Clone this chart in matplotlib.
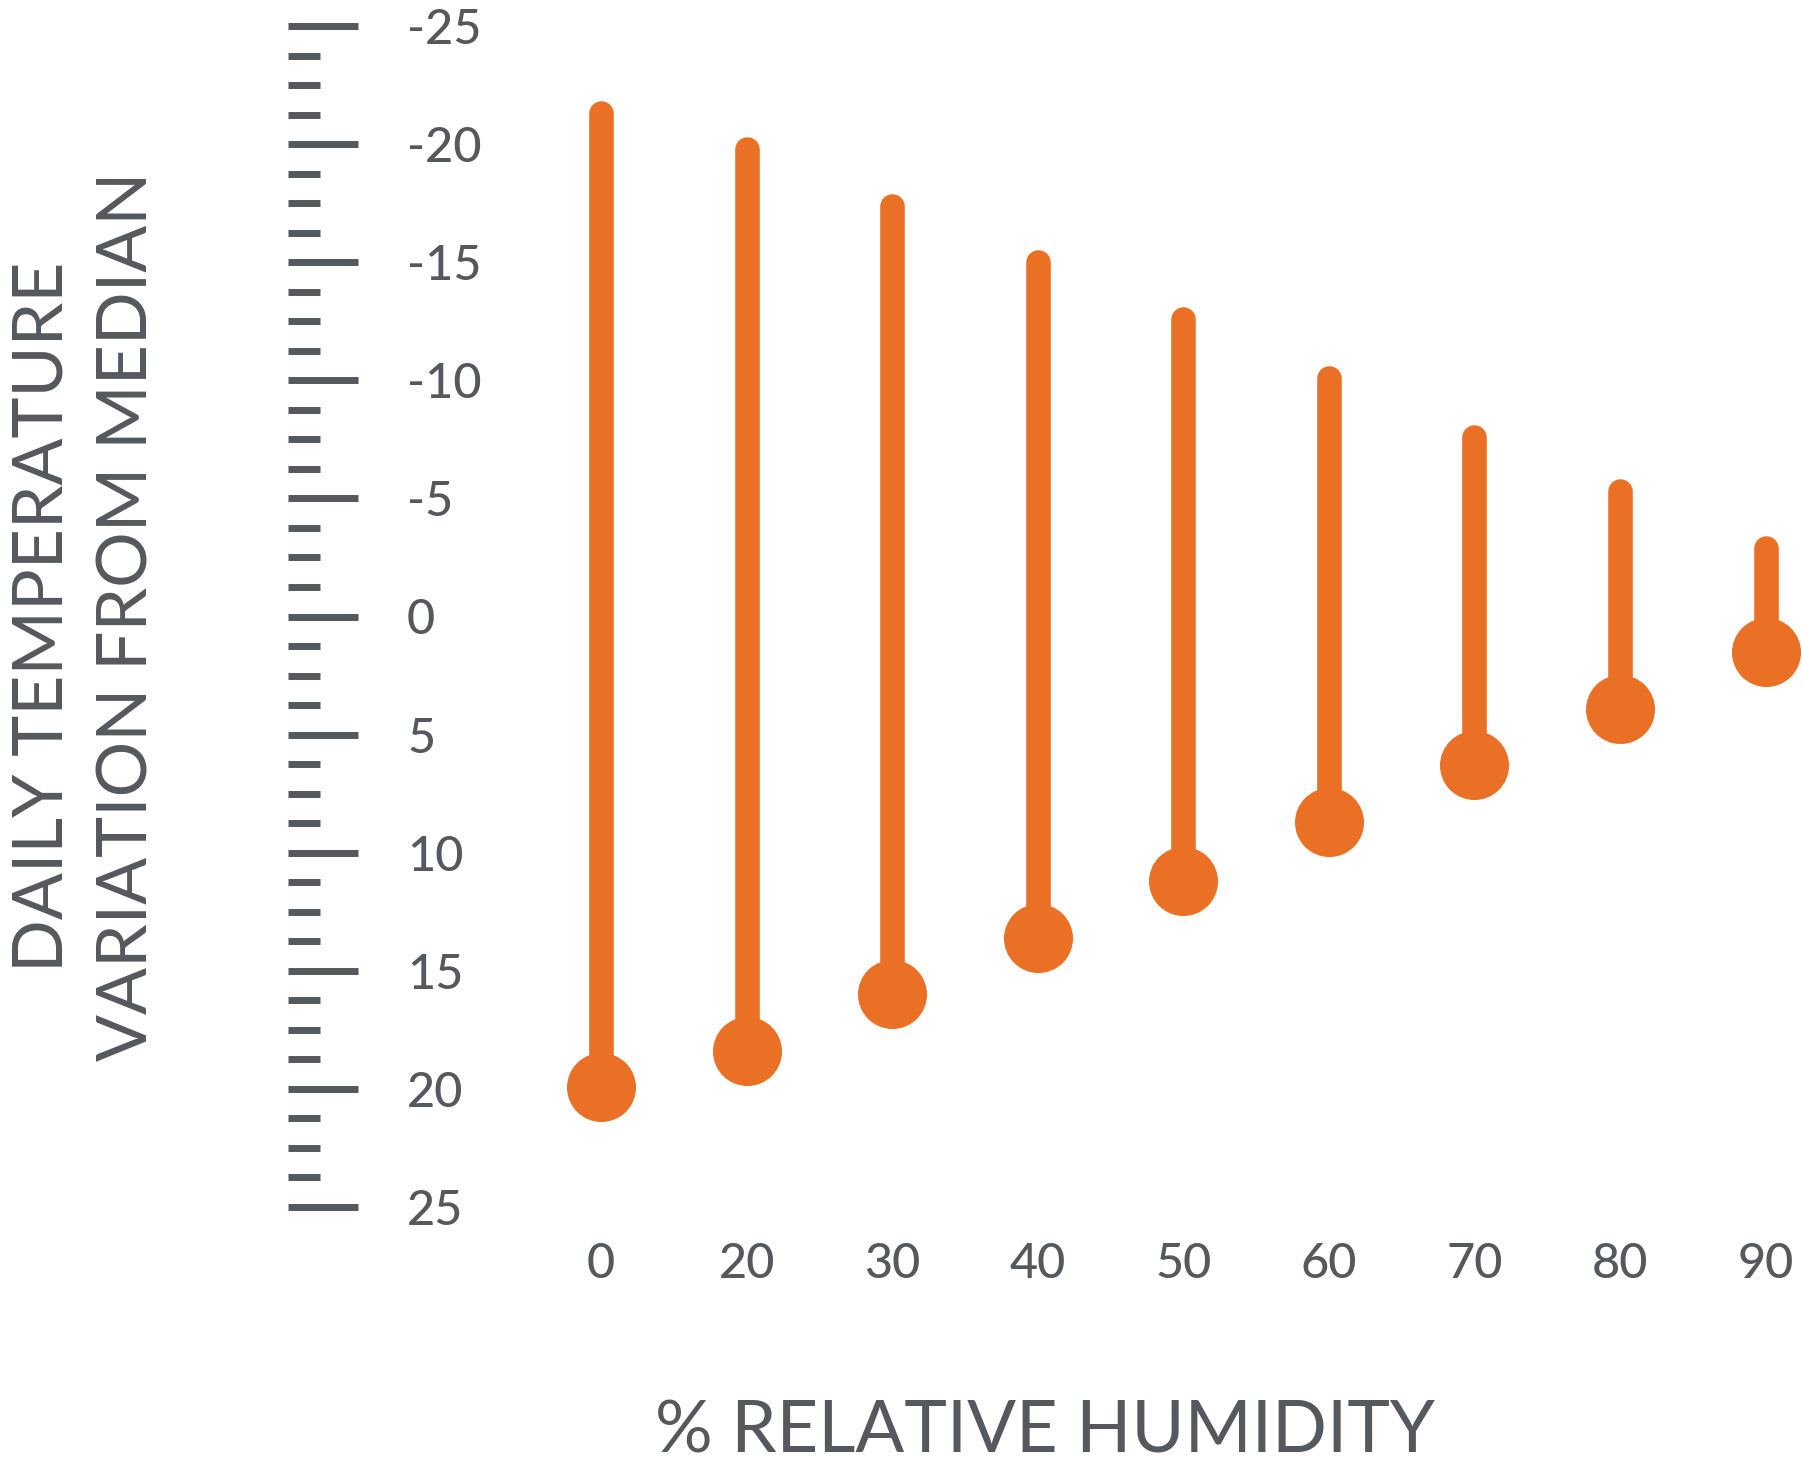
import matplotlib.pyplot as plt

# values (y axis is inverted: negative at top)
humidity = ['0', '20', '30', '40', '50', '60', '70', '80', '90']
var_top = [-21.3, -19.8, -17.4, -15.0, -12.6, -10.1, -7.6, -5.3, -2.9]
var_bottom = [19.9, 18.4, 16.0, 13.6, 11.2, 8.7, 6.3, 3.9, 1.5]
major_ticks = [-25, -20, -15, -10, -5, 0, 5, 10, 15, 20, 25]

orange = '#EA7025'
grey = '#55585C'

plt.rcParams['font.family'] = 'Lato'
plt.rcParams['font.weight'] = 'medium'
plt.rcParams['axes.unicode_minus'] = False

fig = plt.figure(figsize=(18.02, 14.76), dpi=100)
ax = fig.add_axes([288 / 1802, 269 / 1476, 1514 / 1802, 1181 / 1476])

xs = list(range(len(humidity)))
for x, lo, hi in zip(xs, var_top, var_bottom):
    ax.plot([x, x], [lo, hi], color=orange, lw=17.7, solid_capstyle='round', clip_on=False)
ax.plot(xs, var_bottom, 'o', color=orange, ms=49.7, mew=0, clip_on=False)

ax.set_xlim(-2.15, 8.25)
ax.set_ylim(25, -25)

for s in ax.spines.values():
    s.set_visible(False)

# y scale: ticks drawn inward from the left edge, labels to their right
ax.set_yticks(major_ticks)
ax.set_yticks([v * 1.25 for v in range(-20, 21)], minor=True)
ax.tick_params(axis='y', which='major', direction='in', length=50.4, width=5,
               color=grey, pad=-85.7, labelsize=35, labelcolor=grey)
ax.tick_params(axis='y', which='minor', direction='in', length=23, width=5, color=grey)
plt.setp(ax.get_yticklabels(), ha='left')

ax.set_xticks(xs)
ax.set_xticklabels(humidity)
ax.tick_params(axis='x', length=0, pad=25, labelsize=35, labelcolor=grey)

ax.set_xlabel('% RELATIVE HUMIDITY', fontsize=52, color=grey)
ax.xaxis.set_label_coords(0.5, -0.163)
ax.set_ylabel('DAILY TEMPERATURE\nVARIATION FROM MEDIAN', fontsize=50, color=grey,
              linespacing=1.42)
ax.yaxis.set_label_coords(-0.0852, 0.5)

fig.savefig('out.png', dpi=100)
